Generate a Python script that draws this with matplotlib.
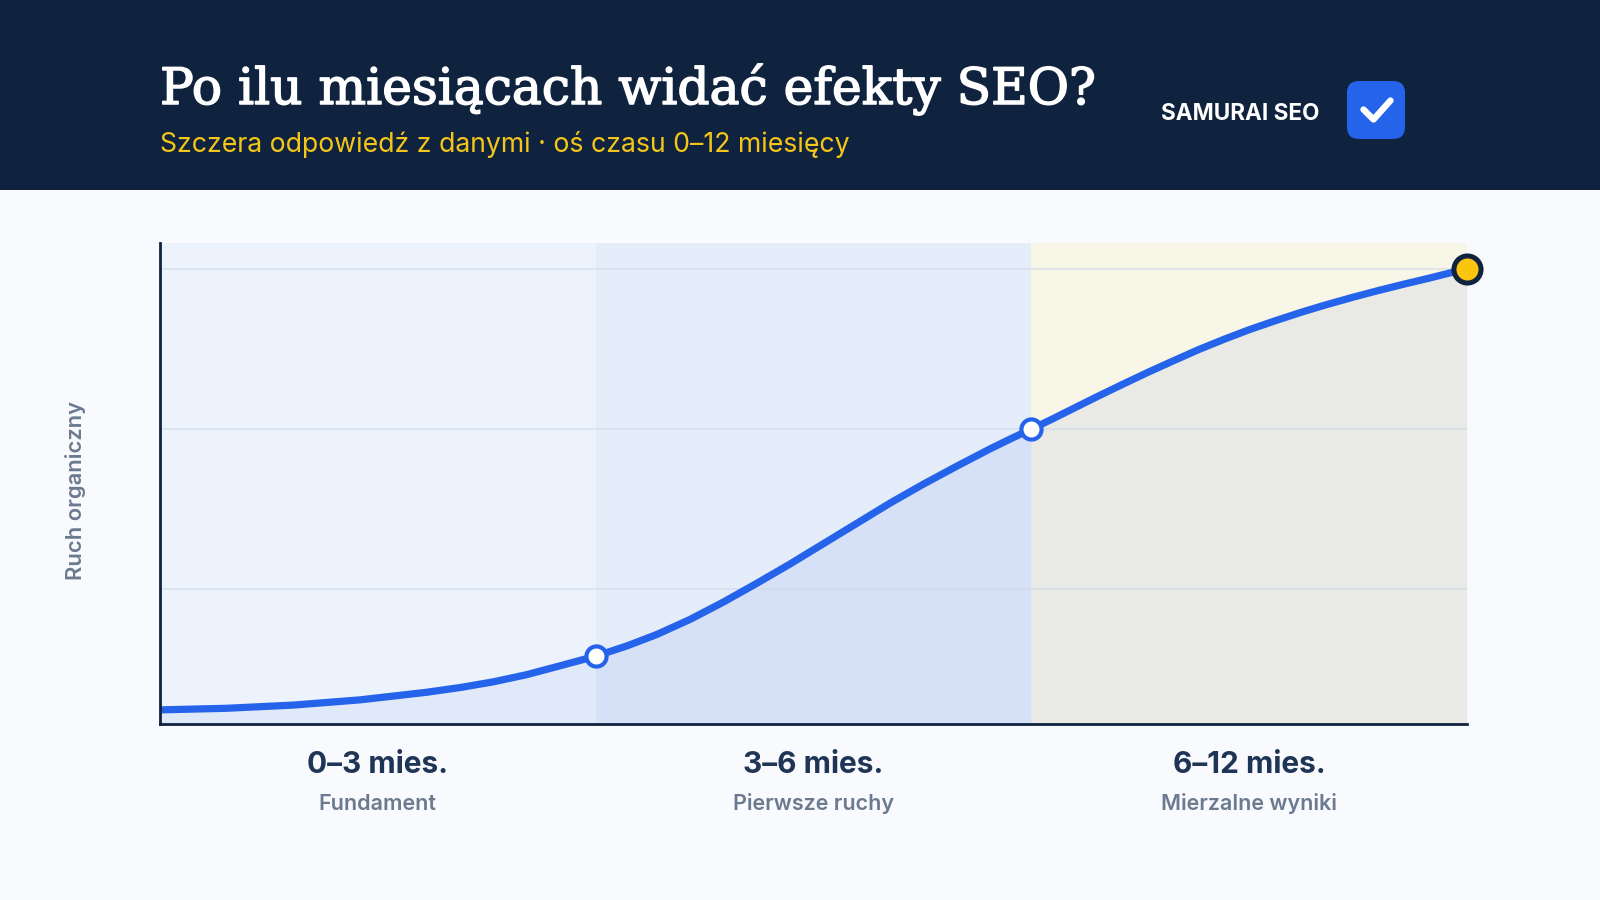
import matplotlib
matplotlib.use("Agg")
import matplotlib.pyplot as plt
import matplotlib.patheffects as pe
from matplotlib.patches import FancyBboxPatch, Rectangle
from matplotlib.lines import Line2D
from matplotlib.transforms import IdentityTransform

# ---------------- data ----------------
title = "Po ilu miesiącach widać efekty SEO?"
subtitle = "Szczera odpowiedź z danymi · oś czasu 0–12 miesięcy"
brand = "SAMURAI SEO"
y_label = "Ruch organiczny"
phase_ranges = ["0–3 mies.", "3–6 mies.", "6–12 mies."]
phase_names = ["Fundament", "Pierwsze ruchy", "Mierzalne wyniki"]
phase_edges = [0, 1, 2, 3]

curve_x = [0.0, 0.153, 0.306, 0.459, 0.612, 0.69, 0.765, 0.842, 0.918, 1.0,
           1.07, 1.14, 1.217, 1.293, 1.37, 1.446, 1.523, 1.6, 1.677, 1.753,
           1.83, 1.906, 1.953, 2.0, 2.046, 2.092, 2.151, 2.21, 2.268, 2.327,
           2.385, 2.444, 2.502, 2.561, 2.62, 2.678, 2.737, 2.796, 2.855,
           2.913, 2.957, 3.0]
curve_y = [3.4, 3.8, 4.6, 5.9, 7.8, 9.0, 10.4, 12.2, 14.4, 16.8,
           19.3, 22.2, 26.0, 30.3, 35.0, 39.8, 44.9, 50.0, 55.1, 59.8,
           64.3, 68.6, 71.1, 73.5, 75.9, 78.4, 81.6, 84.7, 87.7, 90.6,
           93.4, 96.0, 98.4, 100.6, 102.7, 104.6, 106.4, 108.1, 109.7,
           111.2, 112.4, 113.5]
milestone_x = [1.0, 2.0]
milestone_y = [16.8, 73.5]
final_x = [3.0]
final_y = [113.5]
grid_levels = [33.5, 73.5, 113.5]

# ---------------- style ----------------
W, H = 1600, 900
NAVY = "#0f233f"
BG = "#f8fafd"
BLUE = "#2563eb"
YELLOW = "#f5c518"
GRAY = "#6b7a8f"
LABEL_DARK = "#1f3556"
band_colors = ["#edf3fd", "#e5ecfa", "#f8f6e6"]
fill_colors = ["#e0e9fa", "#d6e1f8", "#e9eae5"]

fig = plt.figure(figsize=(16, 9), dpi=100, facecolor=BG)
renderer = fig.canvas.get_renderer()
pix = IdentityTransform()

def fy(y):
    return H - y

# header band
fig.patches.append(Rectangle((0, fy(190)), W, 190, transform=pix,
                             facecolor=NAVY, edgecolor="none", zorder=0))

def fit_text(x, y, s, width, **kw):
    t = fig.text(x, fy(y), s, transform=pix, **kw)
    fs = t.get_fontsize()
    for _ in range(3):
        w = t.get_window_extent(renderer).width
        fs = fs * width / w
        t.set_fontsize(fs)
    return t

t = fit_text(160, 104, title, 936, color="white", family="DejaVu Serif",
             fontsize=40, va="baseline", ha="left")
t.set_path_effects([pe.withStroke(linewidth=1.1, foreground="white")])
fit_text(160, 152, subtitle, 690, color=YELLOW, family="Inter",
         fontsize=21, va="baseline", ha="left")
fit_text(1161, 120, brand, 158, color="white", family="Inter",
         fontweight="bold", fontsize=18, va="baseline", ha="left")

# brand icon
fig.patches.append(FancyBboxPatch((1347, fy(139)), 58, 58, transform=pix,
                                  boxstyle="round,pad=0,rounding_size=12",
                                  facecolor=BLUE, edgecolor="none", zorder=2))
fig.lines.append(Line2D([1363.5, 1373.5, 1390.5], [fy(109.5), fy(119.5), fy(100.5)],
                        transform=pix, color="white", linewidth=4.6,
                        solid_capstyle="round", solid_joinstyle="round", zorder=3))

# ---------------- axes ----------------
x0, x1 = 160, 1466.7
yb, yt = 723.5, 243
ax = fig.add_axes([x0 / W, (H - yb) / H, (x1 - x0) / W, (yb - yt) / H])
ax.set_facecolor(BG)
ax.set_xlim(0, 3)
ax.set_ylim(0, 120)

for i in range(3):
    ax.axvspan(phase_edges[i], phase_edges[i + 1], color=band_colors[i],
               linewidth=0, zorder=0)
    xs = [x for x in curve_x if phase_edges[i] <= x <= phase_edges[i + 1]]
    ys = [y for x, y in zip(curve_x, curve_y) if phase_edges[i] <= x <= phase_edges[i + 1]]
    ax.fill_between(xs, 0, ys, color=fill_colors[i], linewidth=0, zorder=1)

for g in grid_levels:
    ax.axhline(g, color="#c9d6e6", alpha=0.55, linewidth=1.3, zorder=2)

ax.plot(curve_x, curve_y, color=BLUE, linewidth=5.2, solid_capstyle="round",
        solid_joinstyle="round", zorder=4)
ax.plot(milestone_x, milestone_y, linestyle="none", marker="o",
        markersize=14.5, markerfacecolor="white", markeredgecolor=BLUE,
        markeredgewidth=3.0, zorder=5, clip_on=False)
ax.plot(final_x, final_y, linestyle="none", marker="o", markersize=19.5,
        markerfacecolor="#fbc40f", markeredgecolor=NAVY, markeredgewidth=3.6,
        zorder=6, clip_on=False)

for s in ["top", "right"]:
    ax.spines[s].set_visible(False)
for s in ["left", "bottom"]:
    ax.spines[s].set_color(NAVY)
    ax.spines[s].set_linewidth(2.0)
    ax.spines[s].set_zorder(7)
ax.set_xticks([])
ax.set_yticks([])

# phase labels
for i in range(3):
    cx = (phase_edges[i] + phase_edges[i + 1]) / 2
    ax.annotate(phase_ranges[i], xy=(cx, 0), xycoords="data",
                xytext=(0, -41.5), textcoords="offset pixels",
                ha="center", va="center", family="Inter", fontweight="bold",
                fontsize=21.5, color=LABEL_DARK, annotation_clip=False)
    ax.annotate(phase_names[i], xy=(cx, 0), xycoords="data",
                xytext=(0, -80), textcoords="offset pixels",
                ha="center", va="center", family="Inter", fontweight="semibold",
                fontsize=15.5, color=GRAY, annotation_clip=False)

fig.text(75 / W, 1 - 491 / H, y_label, rotation=90, ha="center", va="center",
         family="Inter", fontweight="semibold", fontsize=15.8, color=GRAY)

fig.savefig("out.png", dpi=100, facecolor=BG)
